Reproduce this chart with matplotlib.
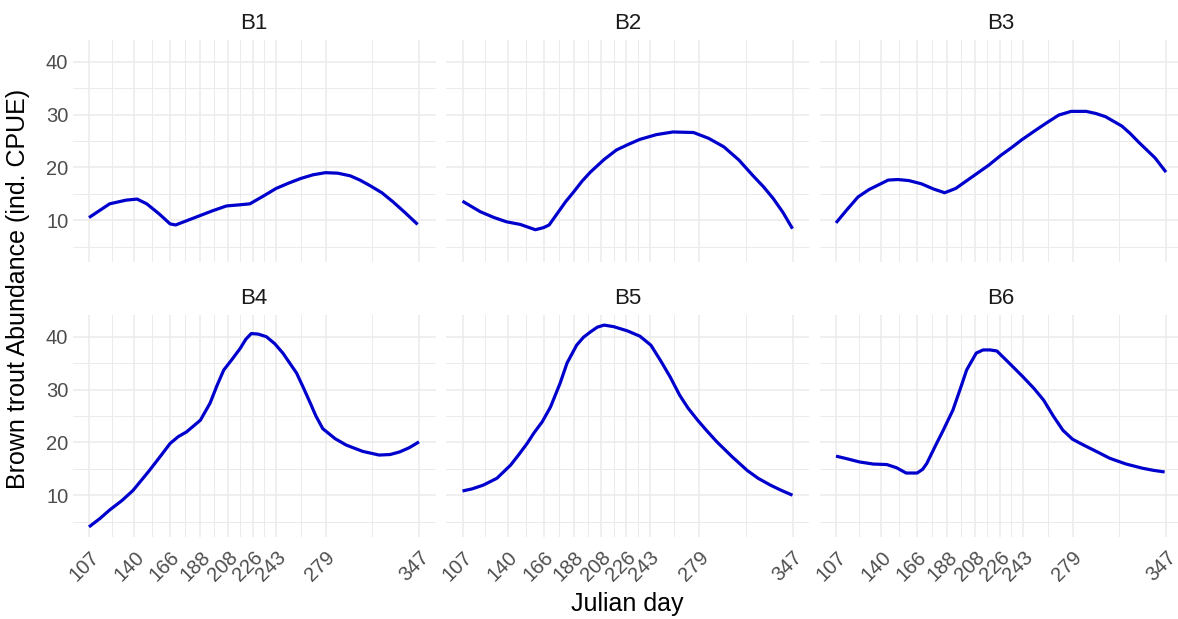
import matplotlib
matplotlib.use('Agg')
import matplotlib.pyplot as plt
import numpy as np

# Sites (facets)
sites = ['B1', 'B2', 'B3', 'B4', 'B5', 'B6']

# Julian day breaks shown on the x axis
day_breaks = [107, 140, 166, 188, 208, 226, 243, 279, 347]

# Smoothed abundance curves (day, CPUE)
b1_day = [107, 122, 134, 142, 149, 158, 166, 170, 178, 188, 197, 207, 216, 224, 234, 243, 252, 261, 270, 279, 288, 297, 304, 311, 320, 328, 337, 346]
b1_val = [10.5, 13.1, 13.8, 14.0, 13.1, 11.2, 9.3, 9.1, 9.9, 10.9, 11.8, 12.7, 12.9, 13.1, 14.6, 16.0, 17.0, 17.9, 18.6, 19.0, 18.9, 18.4, 17.6, 16.6, 15.2, 13.5, 11.4, 9.2]

b2_day = [107, 120, 130, 139, 149, 160, 166, 170, 176, 182, 188, 194, 200, 210, 219, 228, 236, 248, 260, 275, 286, 297, 308, 318, 326, 333, 340, 347]
b2_val = [13.6, 11.6, 10.5, 9.7, 9.2, 8.2, 8.6, 9.1, 11.3, 13.5, 15.4, 17.4, 19.1, 21.5, 23.3, 24.4, 25.3, 26.2, 26.7, 26.6, 25.5, 23.9, 21.4, 18.5, 16.3, 14.1, 11.5, 8.4]

b3_day = [107, 115, 123, 131, 138, 145, 152, 160, 169, 178, 186, 194, 206, 218, 227, 235, 242, 252, 260, 269, 278, 289, 296, 303, 315, 321, 327, 339, 347]
b3_val = [9.5, 12.0, 14.4, 15.8, 16.7, 17.6, 17.7, 17.5, 16.9, 15.9, 15.2, 16.0, 18.2, 20.4, 22.3, 23.8, 25.2, 27.0, 28.4, 29.9, 30.6, 30.6, 30.2, 29.6, 27.8, 26.4, 24.8, 21.8, 19.1]

b4_day = [107, 115, 122, 131, 139, 151, 159, 166, 172, 178, 188, 195, 200, 205, 211, 217, 221, 225, 230, 236, 242, 248, 253, 258, 263, 268, 272, 277, 286, 294, 306, 318, 326, 333, 340, 347]
b4_val = [4.0, 5.6, 7.2, 9.0, 10.9, 14.7, 17.4, 19.8, 21.1, 22.0, 24.2, 27.4, 30.7, 33.7, 35.7, 37.8, 39.5, 40.6, 40.5, 40.0, 38.7, 36.9, 35.0, 33.1, 30.3, 27.4, 25.0, 22.6, 20.7, 19.5, 18.3, 17.6, 17.7, 18.2, 19.0, 20.1]

b5_day = [107, 114, 122, 132, 142, 148, 154, 159, 165, 171, 178, 183, 190, 195, 200, 205, 210, 217, 227, 236, 244, 251, 258, 265, 271, 278, 285, 292, 303, 314, 322, 331, 339, 347]
b5_val = [10.8, 11.2, 11.9, 13.2, 15.7, 17.7, 19.8, 21.8, 23.9, 26.7, 31.2, 35.0, 38.4, 39.9, 40.9, 41.8, 42.2, 41.9, 41.1, 40.1, 38.4, 35.5, 32.4, 28.9, 26.5, 24.2, 22.1, 20.1, 17.3, 14.7, 13.2, 11.9, 10.9, 10.0]

b6_day = [107, 115, 124, 134, 144, 151, 158, 166, 170, 173, 179, 185, 192, 198, 202, 209, 214, 219, 224, 233, 243, 251, 258, 265, 272, 279, 287, 297, 306, 318, 330, 338, 346]
b6_val = [17.4, 16.9, 16.3, 15.9, 15.8, 15.2, 14.2, 14.2, 14.9, 16.0, 19.2, 22.3, 26.1, 30.6, 33.7, 36.9, 37.5, 37.5, 37.3, 35.0, 32.4, 30.2, 28.0, 25.0, 22.3, 20.6, 19.5, 18.2, 17.0, 15.9, 15.1, 14.7, 14.4]

curve_days = [b1_day, b2_day, b3_day, b4_day, b5_day, b6_day]
curve_vals = [b1_val, b2_val, b3_val, b4_val, b5_val, b6_val]

plt.rcParams['font.family'] = ['Liberation Sans', 'DejaVu Sans']

fig = plt.figure(figsize=(11.78, 6.19), dpi=100)
W, H = 1178, 619

# panel boxes in pixels (left, top, width, height), like facet_wrap(ncol = 3)
col_left = [72.5, 446, 819.5]
row_top = [40, 315]
pw, ph = 363, 222

# shared scales with ggplot-style 5% expansion
xmin, xmax = 107, 347
xpad = (xmax - xmin) * 0.05
all_vals = np.concatenate([np.array(v) for v in curve_vals])
ymin, ymax = all_vals.min(), all_vals.max()
ypad = (ymax - ymin) * 0.05

minor_x = [(a + b) / 2 for a, b in zip(day_breaks[:-1], day_breaks[1:])]
grid_col = '#EBEBEB'
text_col = '#4D4D4D'

for i, site in enumerate(sites):
    r, c = divmod(i, 3)
    left = col_left[c] / W
    bottom = 1 - (row_top[r] + ph) / H
    ax = fig.add_axes([left, bottom, pw / W, ph / H])
    ax.set_xlim(xmin - xpad, xmax + xpad)
    ax.set_ylim(ymin - ypad, ymax + ypad)

    ax.set_xticks(day_breaks)
    ax.set_xticks(minor_x, minor=True)
    ax.set_yticks([10, 20, 30, 40])
    ax.set_yticks([5, 15, 25, 35], minor=True)
    ax.grid(which='major', color=grid_col, linewidth=1.1)
    ax.grid(which='minor', color=grid_col, linewidth=0.7)
    ax.set_axisbelow(True)
    for s in ax.spines.values():
        s.set_visible(False)
    ax.tick_params(which='both', length=0, colors=text_col, labelsize=14.5)
    ax.tick_params(axis='x', pad=8)
    ax.tick_params(axis='y', pad=3)

    if r == 1:
        ax.set_xticklabels([str(d) for d in day_breaks], rotation=45,
                           ha='right', rotation_mode='anchor')
    else:
        ax.set_xticklabels([])
    if c != 0:
        ax.set_yticklabels([])

    ax.plot(curve_days[i], curve_vals[i], color='#0000CD', linewidth=2.3,
            solid_capstyle='butt')
    ax.set_title(site, fontsize=16, color='#1A1A1A', pad=8)

fig.text((446 + pw / 2) / W, 1 - 611 / H, 'Julian day', ha='center',
         va='baseline', fontsize=18, color='black')
fig.text(18 / W, 1 - 289 / H, 'Brown trout Abundance (ind. CPUE)', rotation=90,
         ha='center', va='center', fontsize=18, color='black')

plt.savefig('out.png', dpi=100)
